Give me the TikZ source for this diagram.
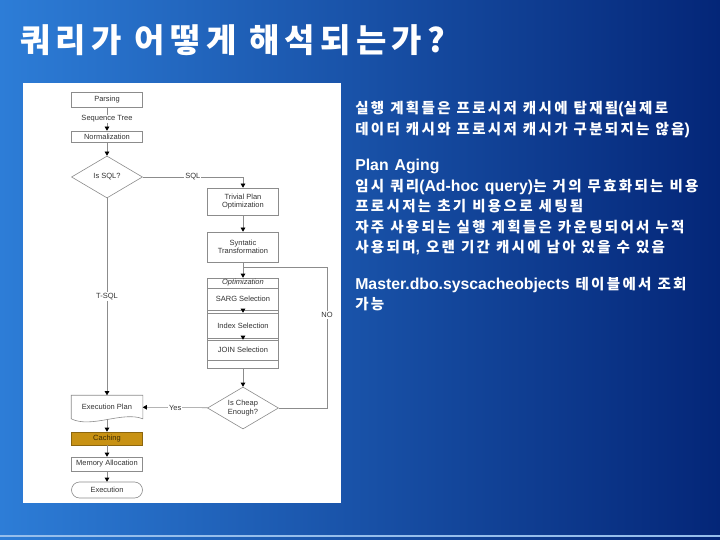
\documentclass[tikz,border=0pt]{standalone}
\usepackage{fontspec}
\usepackage{tikz}
\usetikzlibrary{positioning,arrows.meta,shapes.geometric}
\newfontfamily\flowfont{Liberation Sans}
\newfontfamily\latfont{Liberation Sans}
\newfontfamily\kofont[LetterSpace=16]{Noto Sans CJK KR}
\newfontfamily\titlefont[LetterSpace=16]{Noto Sans CJK KR}
\newcommand\lat[1]{{\latfont\bfseries\fontsize{15.8}{20.5}\selectfont #1}}
\newcommand\widespace{\spaceskip=6pt plus 1pt\relax}
\definecolor{cachegold}{RGB}{200,146,20}
\definecolor{bgleft}{RGB}{45,125,215}
\definecolor{bgright}{RGB}{4,38,120}
\definecolor{edgegray}{RGB}{140,140,140}

\begin{document}
\begin{tikzpicture}[x=1pt,y=-1pt,line width=0.6pt,font=\flowfont\fontsize{7.5}{8.5}\selectfont]
  \tikzstyle{stepbox}=[draw=edgegray,fill=white,minimum width=71pt,inner sep=1pt,align=center,text=black!80]
  \tikzstyle{decide}=[diamond,aspect=1.7,draw=edgegray,fill=white,minimum width=71pt,minimum height=42pt,inner sep=0pt,align=center,text=black!80]
  \tikzstyle{flow}=[draw=edgegray,-{Triangle[width=4.5pt,length=4pt,color=black]}]
  \tikzstyle{lbl}=[fill=white,inner sep=1pt,text=black!80]
  \shade[left color=bgleft,right color=bgright] (0,0) rectangle (720,540);
  \fill[bgleft!50!white] (0,535) rectangle (720,537);
  \fill[white] (23,83) rectangle (341,503);
  \node[anchor=west,inner sep=0pt,text=white,font=\titlefont\bfseries\fontsize{33}{36}\selectfont] (title) at (20,40) {쿼리가 어떻게 해석되는가?};
  \node[anchor=north west,inner sep=0pt,align=left,text=white,font=\kofont\bfseries\fontsize{14.5}{20.5}\selectfont\widespace] (notes) at (355,101) {실행 계획들은 프로시저 캐시에 탑재됨\lat{(}실제로\\데이터 캐시와 프로시저 캐시가 구분되지는 않음\lat{)}\\[16pt]\lat{Plan Aging}\\임시 쿼리\lat{(Ad-hoc query)}는 거의 무효화되는 비용\\프로시저는 초기 비용으로 세팅됨\\자주 사용되는 실행 계획들은 카운팅되어서 누적\\사용되며\lat{,} 오랜 기간 캐시에 남아 있을 수 있음\\[16pt]\lat{Master.dbo.syscacheobjects} 테이블에서 조회\\가능};
  \node[stepbox,minimum height=15pt] (parse) at (107,99.5) {Parsing};
  \node[stepbox,minimum height=11pt] (norm) at (107,136.5) {Normalization};
  \node[decide] (issql) at (107,177) {Is SQL?};
  \node[stepbox,minimum height=27pt] (trivial) at (243,201.5) {Trivial Plan\\Optimization};
  \node[stepbox,minimum height=30pt] (syntatic) at (243,247) {Syntatic\\Transformation};
  \node[stepbox,minimum height=90pt] (optgroup) at (243,323) {};
  \node[minimum width=71pt,minimum height=10pt,inner sep=0pt,text=black!80,font=\flowfont\itshape\fontsize{7.5}{8.5}\selectfont] (opthead) at (243,283) {Optimization};
  \node[stepbox,minimum height=22pt] (sarg) at (243,299) {SARG Selection};
  \node[stepbox,minimum height=25pt] (index) at (243,325.5) {Index Selection};
  \node[stepbox,minimum height=20pt] (joinsel) at (243,350) {JOIN Selection};
  \node[decide] (cheap) at (243,408) {Is Cheap\\Enough?};
  \node[minimum width=71pt,minimum height=23pt,inner sep=0pt,text=black!80] (plan) at (107,407) {Execution Plan};
  \draw[edgegray] (plan.north west) -- (plan.north east) -- (plan.south east) .. controls +(-20,-8) and +(20,10) .. (plan.south west) -- cycle;
  \node[stepbox,fill=cachegold,draw=cachegold!70!black,minimum height=13pt,text=cachegold!30!black] (cache) at (107,438.5) {Caching};
  \node[stepbox,minimum height=14pt] (mem) at (107,464) {Memory Allocation};
  \node[stepbox,rounded corners=8pt,minimum height=16pt] (exec) at (107,490) {Execution};
  \coordinate (nocorner) at (327,267);
  \coordinate (nojoin) at (243,267);
  \draw[flow] (parse) -- node[lbl] {Sequence Tree} (norm);
  \draw[flow] (norm) -- (issql);
  \draw[flow] (issql.east) -| node[lbl,pos=0.25] {SQL} (trivial.north);
  \draw[flow] (trivial) -- (syntatic);
  \draw[flow] (syntatic) -- (optgroup.north);
  \draw[flow] (sarg) -- (index);
  \draw[flow] (index) -- (joinsel);
  \draw[edgegray] (cheap.east) -| node[lbl,pos=0.83] {NO} (nocorner) -- (nojoin);
  \draw[flow] (optgroup) -- (cheap);
  \draw[flow] (cheap) -- node[lbl] {Yes} (plan);
  \draw[flow] (issql) -- node[lbl] {T-SQL} (plan);
  \draw[flow] (plan.south) -- (cache);
  \draw[flow] (cache) -- (mem);
  \draw[flow] (mem) -- (exec);
\end{tikzpicture}
\end{document}
